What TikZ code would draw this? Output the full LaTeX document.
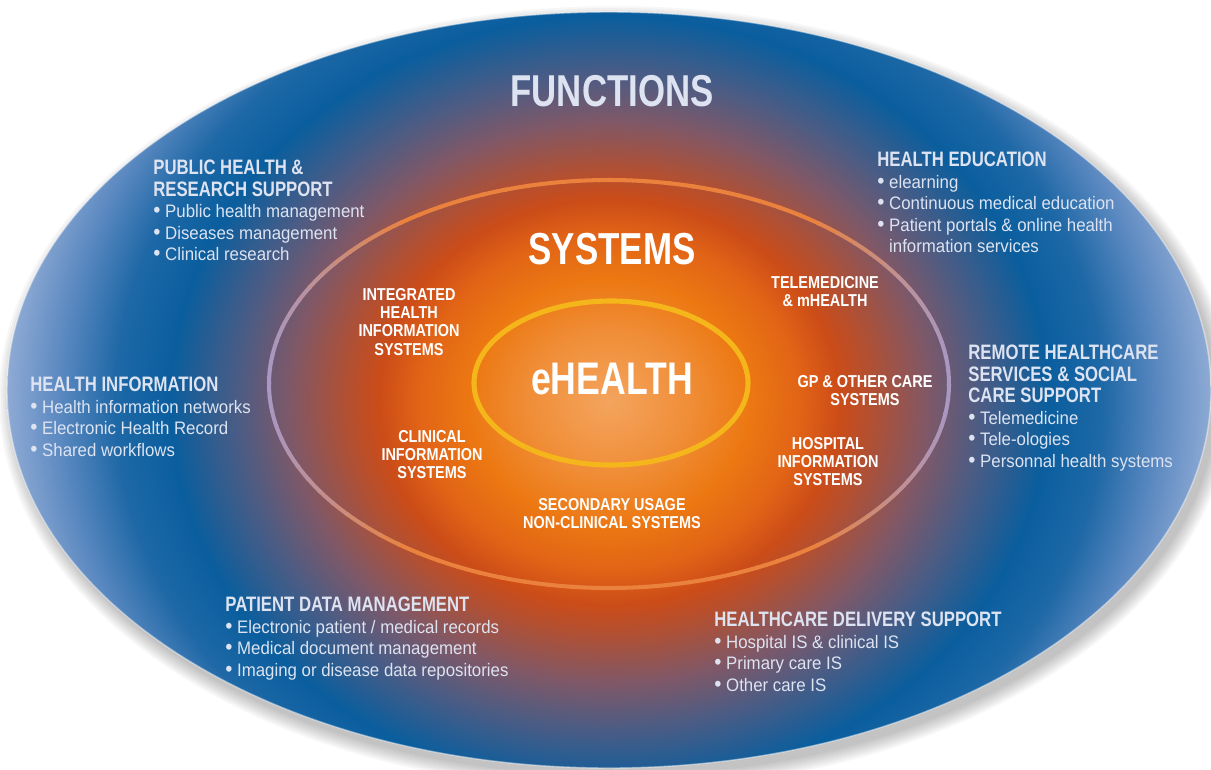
\documentclass[tikz,border=0pt]{standalone}
\usepackage{fontspec}
\setmainfont{Liberation Sans}
\newfontfamily\titlefont[FakeStretch=0.78]{Liberation Sans}
\newfontfamily\headfont[FakeStretch=0.80]{Liberation Sans}
\newfontfamily\sysfont[FakeStretch=0.84]{Liberation Sans}
\newfontfamily\itemfont[FakeStretch=0.93]{Liberation Sans}
\usepackage{xcolor}
\usetikzlibrary{positioning}

\definecolor{glowA}{HTML}{F4A45E}
\definecolor{glowB}{HTML}{F08E38}
\definecolor{glowC}{HTML}{EC7812}
\definecolor{glowD}{HTML}{E26416}
\definecolor{glowE}{HTML}{CC4C18}
\definecolor{glowF}{HTML}{B05034}
\definecolor{glowG}{HTML}{7E5868}
\definecolor{glowH}{HTML}{4C5C84}
\definecolor{glowI}{HTML}{0A5E9E}
\definecolor{glowJ}{HTML}{1E68A6}
\definecolor{glowK}{HTML}{5A88C0}
\definecolor{glowL}{HTML}{8EAAD4}
\definecolor{ringlav}{HTML}{A898C2}
\definecolor{ringorg}{HTML}{EA823E}
\definecolor{coreline}{HTML}{F4B61A}
\definecolor{paletxt}{HTML}{DDE3F1}

\pgfdeclareradialshading{ehealthglow}{\pgfpoint{0bp}{0bp}}{%
color(0bp)=(glowA); color(3.3bp)=(glowB); color(5.8bp)=(glowC);
color(7.9bp)=(glowD); color(9.55bp)=(glowE); color(11bp)=(glowF);
color(13.3bp)=(glowG); color(15.4bp)=(glowH); color(18.2bp)=(glowI);
color(20.5bp)=(glowJ); color(22.8bp)=(glowK); color(25bp)=(glowL);
color(50bp)=(glowL)}

\newcommand\blockhead[1]{{\headfont\bfseries\fontsize{11.9}{12.2}\selectfont #1}}
\newcommand\dotmark{{\fontsize{12.5}{12.2}\selectfont•}\ }

\begin{document}
\begin{tikzpicture}[x=0.02cm,y=-0.02cm,
  every node/.style={inner sep=0pt},
  title/.style={anchor=north,font=\titlefont\bfseries},
  block/.style={anchor=north west,align=left,text=paletxt,
    font=\itemfont\fontsize{10.3}{12.2}\selectfont},
  syslabel/.style={anchor=north,align=center,text=white,
    font=\sysfont\bfseries\fontsize{9.8}{10.4}\selectfont}]
\useasboundingbox (0,0) rectangle (1211,769);
\fill[white] (0,0) rectangle (1211,769);
% shadow
\foreach \s in {1,...,8}
  \fill[black,opacity=0.03] (615,398) ellipse [x radius=600+2*\s, y radius=376+2*\s];
% functions
\begin{scope}
  \clip (609,390) ellipse [x radius=602, y radius=378];
  \shade[shading=ehealthglow] (609,402) ellipse [x radius=602, y radius=530];
\end{scope}
\draw[white,opacity=0.45,line width=0.8pt] (609,390) ellipse [x radius=602, y radius=378];
% systems
\coordinate (ringc) at (609,384);
\foreach \a in {0,4,...,356}{
  \pgfmathsetmacro\mixp{min(100,max(0,(1-abs(cos(\a+2)))*250))}
  \draw[ringorg!\mixp!ringlav,line width=2.3pt]
    ([shift={(\a:340 and 204)}]ringc) arc[start angle=\a,end angle=\a+4.5,x radius=340,y radius=204];
}
% eHealth
\draw[coreline,line width=2.9pt] (611,383) ellipse [x radius=137, y radius=82];

\node[title,text=paletxt,font=\titlefont\bfseries\fontsize{25.4}{26}\selectfont] (functions) at (612,75) {FUNCTIONS};
\node[title,text=white,font=\titlefont\bfseries\fontsize{25.5}{26}\selectfont] (systems) at (612,233) {SYSTEMS};
\node[title,text=white,font=\titlefont\bfseries\fontsize{26}{27}\selectfont] (ehealth) at (612,363) {eHEALTH};

\node[block] (pubhealth) at (153,160) {\blockhead{PUBLIC HEALTH \&}\\\blockhead{RESEARCH SUPPORT}\\
  \dotmark Public health management\\\dotmark Diseases management\\\dotmark Clinical research};
\node[block] (healthedu) at (877,152) {\blockhead{HEALTH EDUCATION}\\\dotmark elearning\\
  \dotmark Continuous medical education\\\dotmark Patient portals \& online health\\\phantom{\dotmark}information services};
\node[block] (healthinfo) at (30,377) {\blockhead{HEALTH INFORMATION}\\\dotmark Health information networks\\
  \dotmark Electronic Health Record\\\dotmark Shared workflows};
\node[block] (remotecare) at (968,345) {\blockhead{REMOTE HEALTHCARE}\\\blockhead{SERVICES \& SOCIAL}\\
  \blockhead{CARE SUPPORT}\\\dotmark Telemedicine\\\dotmark Tele-ologies\\\dotmark Personnal health systems};
\node[block] (patientdata) at (225,597) {\blockhead{PATIENT DATA MANAGEMENT}\\\dotmark Electronic patient / medical records\\
  \dotmark Medical document management\\\dotmark Imaging or disease data repositories};
\node[block] (deliverysupport) at (714,612) {\blockhead{HEALTHCARE DELIVERY SUPPORT}\\\dotmark Hospital IS \& clinical IS\\
  \dotmark Primary care IS\\\dotmark Other care IS};

\node[syslabel] (integratedhis) at (409,288) {INTEGRATED\\HEALTH\\INFORMATION\\SYSTEMS};
\node[syslabel] (clinicalis) at (432,430) {CLINICAL\\INFORMATION\\SYSTEMS};
\node[syslabel] (secondaryuse) at (612,498) {SECONDARY USAGE\\NON-CLINICAL SYSTEMS};
\node[syslabel] (telemed) at (825,276) {TELEMEDICINE\\\& mHEALTH};
\node[syslabel] (gpcare) at (865,375) {GP \& OTHER CARE\\SYSTEMS};
\node[syslabel] (hospitalis) at (828,437) {HOSPITAL\\INFORMATION\\SYSTEMS};
\end{tikzpicture}
\end{document}
